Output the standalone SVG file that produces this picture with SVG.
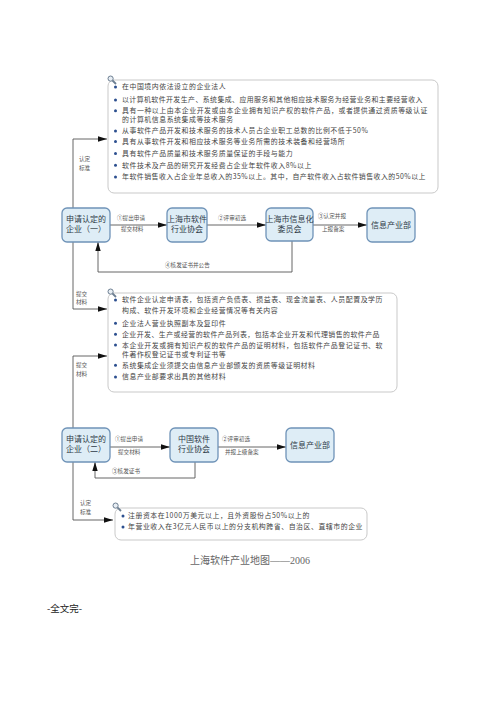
<svg xmlns="http://www.w3.org/2000/svg" width="500" height="707" viewBox="0 0 500 707">
<style>
.bg{fill:#ffffff}
.box{fill:#ffffff;stroke:#c9c9c9;stroke-width:1}
.node{fill:#deedf6;stroke:#6f93b8;stroke-width:1.3}
.nt{font-family:"Noto Sans CJK SC","Noto Sans",sans-serif;font-size:8px;fill:#2e3a46;text-anchor:middle}
.bt{font-family:"Noto Sans CJK SC","Noto Sans",sans-serif;font-size:6.9px;letter-spacing:0.55px;fill:#444}
.lb{font-family:"Noto Sans CJK SC","Noto Sans",sans-serif;font-size:5.6px;fill:#555}
.dot{fill:#2c4f8f}
.ln{fill:none;stroke:#555;stroke-width:0.9}
.cap{font-family:"Liberation Serif","Noto Sans CJK SC",serif;font-size:10px;fill:#666}
.end{font-family:"Noto Sans CJK SC",sans-serif;font-size:9.5px;fill:#222}
.ic{fill:#e8eef4;stroke:#6d7f92;stroke-width:1}
</style>
<defs>
<marker id="ah" viewBox="0 0 10 6" refX="10" refY="3" markerWidth="9" markerHeight="5.4" markerUnits="userSpaceOnUse" orient="auto">
<path d="M0,0 L10,3 L0,6 z" fill="#111"/>
</marker>
<g id="mag">
<line x1="3" y1="3" x2="8" y2="8" stroke="#6d7f92" stroke-width="1.8"/>
<circle cx="2.6" cy="2.6" r="2.6" class="ic"/>
</g>
</defs>
<rect class="bg" x="0" y="0" width="500" height="707"/>

<g id="connectors">
<polyline class="ln" points="73,208 73,139 107,139" marker-end="url(#ah)"/>
<polyline class="ln" points="73,242 73,309 107,309" marker-end="url(#ah)"/>
<polyline class="ln" points="73,428 73,356 107,356" marker-end="url(#ah)"/>
<polyline class="ln" points="73,462 73,520 113,520" marker-end="url(#ah)"/>
<line class="ln" x1="110" y1="225" x2="167" y2="225" marker-end="url(#ah)"/>
<line class="ln" x1="207" y1="225" x2="266" y2="225" marker-end="url(#ah)"/>
<line class="ln" x1="313" y1="225" x2="367" y2="225" marker-end="url(#ah)"/>
<polyline class="ln" points="292,241 292,272 98,272 98,242" marker-end="url(#ah)"/>
<line class="ln" x1="110" y1="447" x2="170" y2="447" marker-end="url(#ah)"/>
<line class="ln" x1="218" y1="447" x2="286" y2="447" marker-end="url(#ah)"/>
<polyline class="ln" points="195,462 195,478 95,478 95,462" marker-end="url(#ah)"/>
<text class="lb" x="79" y="161">认定</text>
<text class="lb" x="79" y="170">标准</text>
<text class="lb" x="76" y="296">提交</text>
<text class="lb" x="76" y="304">材料</text>
<text class="lb" x="76" y="367">提交</text>
<text class="lb" x="76" y="376">材料</text>
<text class="lb" x="80" y="505">认定</text>
<text class="lb" x="80" y="514">标准</text>
<text class="lb" x="117" y="220">①提出申请</text>
<text class="lb" x="121" y="231">提交材料</text>
<text class="lb" x="218" y="220">②评审初选</text>
<text class="lb" x="318" y="218">③认定并报</text>
<text class="lb" x="322" y="231">上报备案</text>
<text class="lb" x="165" y="267">④核发证书并公告</text>
<text class="lb" x="115" y="441">①提出申请</text>
<text class="lb" x="118" y="454">提交材料</text>
<text class="lb" x="222" y="441">②评审初选</text>
<text class="lb" x="225" y="454">并报上级备案</text>
<text class="lb" x="112" y="473">③核发证书</text>
</g>

<g id="box-criteria">
<rect class="box" x="108" y="80" width="330" height="113" rx="6"/>
<use href="#mag" x="108" y="76"/>
<circle class="dot" cx="115.5" cy="86.9" r="1.5"/><text class="bt" x="122" y="89.3">在中国境内依法设立的企业法人</text>
<circle class="dot" cx="115.5" cy="99.9" r="1.5"/><text class="bt" x="122" y="102.3" textLength="301" lengthAdjust="spacing">以计算机软件开发生产、系统集成、应用服务和其他相应技术服务为经营业务和主要经营收入</text>
<circle class="dot" cx="115.5" cy="110.7" r="1.5"/><text class="bt" x="122" y="113.1" textLength="306" lengthAdjust="spacing">具有一种以上由本企业开发或由本企业拥有知识产权的软件产品，或者提供通过资质等级认证</text>
<text class="bt" x="122" y="121.8">的计算机信息系统集成等技术服务</text>
<circle class="dot" cx="115.5" cy="130.9" r="1.5"/><text class="bt" x="122" y="133.3">从事软件产品开发和技术服务的技术人员占企业职工总数的比例不低于50%</text>
<circle class="dot" cx="115.5" cy="141.6" r="1.5"/><text class="bt" x="122" y="144">具有从事软件开发和相应技术服务等业务所需的技术装备和经营场所</text>
<circle class="dot" cx="115.5" cy="153.6" r="1.5"/><text class="bt" x="122" y="156">具有软件产品质量和技术服务质量保证的手段与能力</text>
<circle class="dot" cx="115.5" cy="165.3" r="1.5"/><text class="bt" x="122" y="167.7">软件技术及产品的研究开发经费占企业年软件收入8%以上</text>
<circle class="dot" cx="115.5" cy="176.9" r="1.5"/><text class="bt" x="122" y="179.3" textLength="304" lengthAdjust="spacing">年软件销售收入占企业年总收入的35%以上。其中，自产软件收入占软件销售收入的50%以上</text>
</g>

<g id="box-materials">
<rect class="box" x="108" y="293" width="289" height="99" rx="6"/>
<use href="#mag" x="108" y="289"/>
<circle class="dot" cx="115.5" cy="299.9" r="1.5"/><text class="bt" x="122" y="302.2" textLength="261" lengthAdjust="spacing">软件企业认定申请表，包括资产负债表、损益表、现金流量表、人员配置及学历</text>
<text class="bt" x="122" y="312.9">构成、软件开发环境和企业经营情况等有关内容</text>
<circle class="dot" cx="115.5" cy="323.3" r="1.5"/><text class="bt" x="122" y="325.7">企业法人营业执照副本及复印件</text>
<circle class="dot" cx="115.5" cy="334.3" r="1.5"/><text class="bt" x="122" y="336.7" textLength="258" lengthAdjust="spacing">企业开发、生产或经营的软件产品列表，包括本企业开发和代理销售的软件产品</text>
<circle class="dot" cx="115.5" cy="345.1" r="1.5"/><text class="bt" x="122" y="347.5" textLength="261" lengthAdjust="spacing">本企业开发或拥有知识产权的软件产品的证明材料，包括软件产品登记证书、软</text>
<text class="bt" x="122" y="356.5">件著作权登记证书或专利证书等</text>
<circle class="dot" cx="115.5" cy="365.3" r="1.5"/><text class="bt" x="122" y="367.7">系统集成企业须提交由信息产业部颁发的资质等级证明材料</text>
<circle class="dot" cx="115.5" cy="376.9" r="1.5"/><text class="bt" x="122" y="379.3">信息产业部要求出具的其他材料</text>
</g>

<g id="box-foreign">
<rect class="box" x="115" y="508" width="252" height="32" rx="6"/>
<use href="#mag" x="113" y="503"/>
<circle class="dot" cx="123" cy="515.9" r="1.5"/><text class="bt" x="128" y="518.3">注册资本在1000万美元以上，且外资股份占50%以上的</text>
<circle class="dot" cx="123" cy="526.9" r="1.5"/><text class="bt" x="128" y="529.3">年营业收入在3亿元人民币以上的分支机构跨省、自治区、直辖市的企业</text>
</g>

<g id="n-apply1">
<rect class="node" x="62" y="208" width="48" height="34" rx="5"/>
<text class="nt" x="86" y="222">申请认定的</text>
<text class="nt" x="86" y="232">企业（一）</text>
</g>
<g id="n-shsia">
<rect class="node" x="167" y="208" width="40" height="34" rx="5"/>
<text class="nt" x="187" y="222">上海市软件</text>
<text class="nt" x="187" y="232">行业协会</text>
</g>
<g id="n-shic">
<rect class="node" x="266" y="208" width="47" height="33" rx="5"/>
<text class="nt" x="289.5" y="222">上海市信息化</text>
<text class="nt" x="289.5" y="232">委员会</text>
</g>
<g id="n-mii1">
<rect class="node" x="367" y="208" width="48" height="34" rx="5"/>
<text class="nt" x="391" y="228">信息产业部</text>
</g>

<g id="n-apply2">
<rect class="node" x="62" y="428" width="48" height="34" rx="5"/>
<text class="nt" x="86" y="442">申请认定的</text>
<text class="nt" x="86" y="452">企业（二）</text>
</g>
<g id="n-csia">
<rect class="node" x="170" y="428" width="48" height="34" rx="5"/>
<text class="nt" x="194" y="442">中国软件</text>
<text class="nt" x="194" y="452">行业协会</text>
</g>
<g id="n-mii2">
<rect class="node" x="286" y="428" width="48" height="34" rx="5"/>
<text class="nt" x="310" y="448">信息产业部</text>
</g>

<text class="cap" x="250" y="564" text-anchor="middle">上海软件产业地图——2006</text>
<text class="end" x="47" y="612">-全文完-</text>
</svg>
